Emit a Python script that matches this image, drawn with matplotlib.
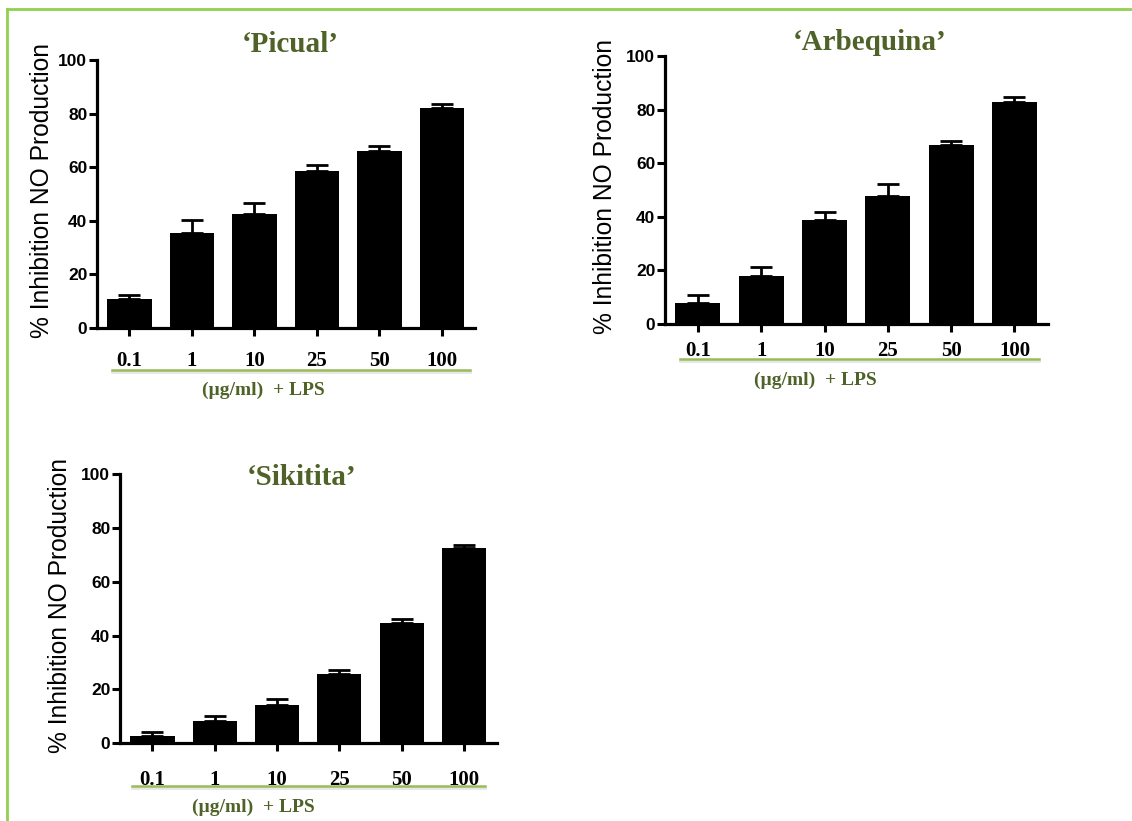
import matplotlib.pyplot as plt
from matplotlib.lines import Line2D

doses = ["0.1", "1", "10", "25", "50", "100"]

picual = [10.9, 35.4, 42.5, 58.4, 66.0, 82.0]
picual_sem = [1.5, 5.0, 4.1, 2.5, 1.8, 1.5]

arbequina = [7.7, 17.9, 38.8, 47.8, 66.8, 83.0]
arbequina_sem = [3.0, 3.2, 3.0, 4.4, 1.5, 1.8]

sikitita = [2.5, 8.3, 14.3, 25.8, 44.5, 72.4]
sikitita_sem = [1.5, 1.6, 2.2, 1.5, 1.7, 1.3]

olive = "#4F6228"
frame_green = "#92D050"
rule_green = "#9BBB59"

W, H = 1132, 821
fig = plt.figure(figsize=(W / 100, H / 100), dpi=100)


def px(x, y):
    # pixel coords (from top-left) -> figure fraction
    return x / W, (H - y) / H


def panel(left, right, y0, y100, vals, errs, title, title_xy, lab_xy, rule, label_x, tick_pad):
    l, b = px(left, y0)
    r, t = px(right, y100)
    ax = fig.add_axes([l, b, r - l, t - b])
    pos = list(range(len(vals)))
    ax.bar(pos, vals, width=0.71, color="black", zorder=2)
    ax.errorbar(pos, vals, yerr=[[0] * len(errs), errs], fmt="none",
                ecolor="black", elinewidth=2, capsize=8, capthick=2, zorder=1)
    ax.set_xlim(-0.52, 5.53)
    ax.set_ylim(0, 100)
    ax.set_yticks([0, 20, 40, 60, 80, 100])
    ax.set_xticks(pos)
    ax.set_xticklabels(doses, family="Liberation Serif", fontweight="bold", fontsize=15)
    for lab in ax.get_yticklabels():
        lab.set_family("Liberation Sans")
        lab.set_fontweight("bold")
        lab.set_fontsize(12.5)
    ax.tick_params(axis="y", direction="out", length=6, width=2.2, pad=1)
    ax.tick_params(axis="x", direction="out", length=6, width=2.2, pad=tick_pad)
    for s in ["top", "right"]:
        ax.spines[s].set_visible(False)
    for s in ["left", "bottom"]:
        ax.spines[s].set_linewidth(2.3)
    ax.set_ylabel("% Inhibition NO Production", family="Liberation Sans", fontsize=17.7)
    ax.yaxis.set_label_coords(label_x, 0.513)

    fig.text(*px(*title_xy), title, ha="center", va="center", color=olive,
             family="Liberation Serif", fontweight="bold", fontsize=21)
    fig.text(*px(*lab_xy), "(µg/ml)  + LPS", ha="center", va="center", color=olive,
             family="Liberation Serif", fontweight="bold", fontsize=14)
    (x1, x2, yr) = rule
    fx1, fy = px(x1, yr)
    fx2, _ = px(x2, yr)
    fig.add_artist(Line2D([fx1, fx2], [fy - 0.002, fy - 0.002], color="#e6e6e6", lw=2))
    fig.add_artist(Line2D([fx1, fx2], [fy, fy], color=rule_green, lw=1.8))
    return ax


panel(97, 475, 328, 60, picual, picual_sem, "\u2018Picual\u2019", (290, 45),
      (263, 390), (112, 470, 370), -0.113, 10.5)
panel(665, 1048, 324, 56, arbequina, arbequina_sem, "\u2018Arbequina\u2019", (870, 42),
      (815, 380), (680, 1039, 359), -0.126, 6)
panel(120, 497, 743, 474.3, sikitita, sikitita_sem, "\u2018Sikitita\u2019", (302, 477),
      (253, 807), (132, 485, 786), -0.127, 13.5)

# green page frame
fig.add_artist(Line2D([7 / W, 1.0], [px(0, 9)[1]] * 2, color=frame_green, lw=2))
fig.add_artist(Line2D([7 / W, 7 / W], [0, px(0, 9)[1]], color=frame_green, lw=2))

fig.savefig("out.png", dpi=100)
